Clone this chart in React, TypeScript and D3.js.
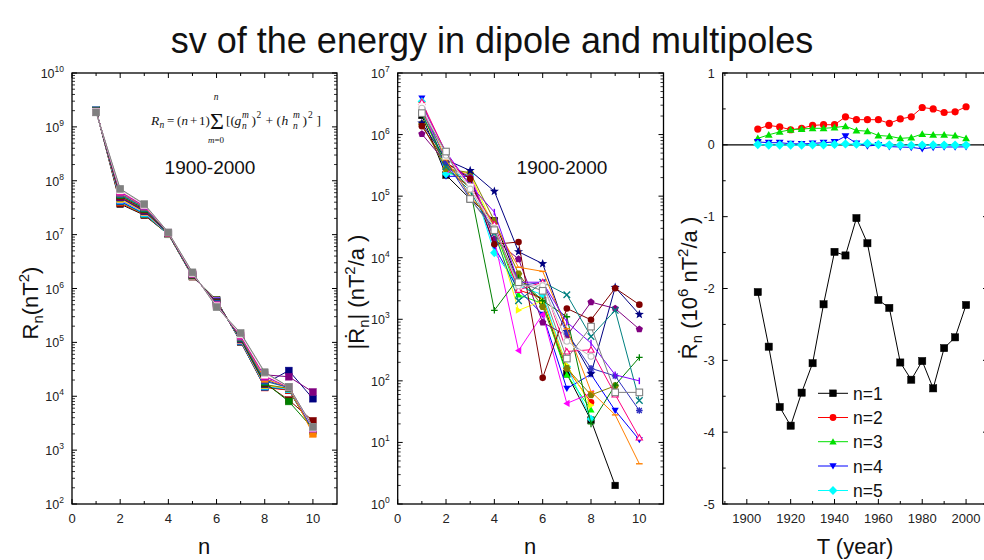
import React from "react";
import * as d3 from "d3";

const FONT = "'Liberation Sans', Arial, Helvetica, sans-serif";
const SERIF = "'Liberation Serif', 'Times New Roman', serif";

// ---------- shared ----------
const degrees = [1, 2, 3, 4, 5, 6, 7, 8, 9, 10];
const originColors = [
  "#000000", "#FF0000", "#00FF00", "#0000FF", "#00FFFF", "#FF00FF", "#FFFF00", "#808000",
  "#000080", "#800080", "#800000", "#008000", "#008080", "#3030C0", "#FF8000", "#8000FF",
  "#FF0080", "#FFFFFF", "#C0C0C0", "#808080",
];

// ---------- panel 1 : R_n (nT^2) ----------
const p1Years = [1905, 1910, 1915, 1920, 1925, 1930, 1935, 1940, 1945, 1950, 1955, 1960, 1965, 1970, 1975, 1980, 1985, 1990, 1995, 2000];
const rn1905 = [2.07e9, 3.7e7, 2.3e7, 1.01e7, 1.66e6, 6.1e5, 1.02e5, 1.5e4, 1.3e4, 2.3e3];
const rn1910 = [2.06e9, 3.9e7, 2.35e7, 1.02e7, 1.67e6, 6.0e5, 1.04e5, 1.45e4, 1.3e4, 2.4e3];
const rn1915 = [2.05e9, 4.1e7, 2.4e7, 1.02e7, 1.68e6, 6.0e5, 1.05e5, 1.5e4, 1.35e4, 2.3e3];
const rn1920 = [2.04e9, 4.2e7, 2.45e7, 1.03e7, 1.69e6, 5.9e5, 1.06e5, 1.5e4, 1.35e4, 2.4e3];
const rn1925 = [2.03e9, 4.4e7, 2.5e7, 1.03e7, 1.7e6, 5.8e5, 1.08e5, 1.55e4, 1.35e4, 2.4e3];
const rn1930 = [2.02e9, 4.5e7, 2.6e7, 1.04e7, 1.72e6, 5.8e5, 1.1e5, 1.6e4, 1.4e4, 2.5e3];
const rn1935 = [2.01e9, 4.6e7, 2.65e7, 1.04e7, 1.73e6, 5.7e5, 1.12e5, 1.6e4, 1.4e4, 2.5e3];
const rn1940 = [2.0e9, 4.8e7, 2.7e7, 1.05e7, 1.74e6, 5.6e5, 1.13e5, 1.65e4, 1.4e4, 2.5e3];
const rn1945 = [1.99e9, 4.9e7, 2.75e7, 1.05e7, 1.75e6, 5.6e5, 1.15e5, 1.7e4, 3.0e4, 9.0e3];
const rn1950 = [1.98e9, 5.0e7, 2.8e7, 1.06e7, 1.77e6, 5.5e5, 1.17e5, 2.5e4, 2.3e4, 1.2e4];
const rn1955 = [1.97e9, 5.2e7, 2.9e7, 1.06e7, 1.78e6, 5.4e5, 1.19e5, 1.75e4, 8.5e3, 3.5e3];
const rn1960 = [1.96e9, 5.4e7, 3.0e7, 1.07e7, 1.8e6, 5.3e5, 1.2e5, 1.8e4, 8.0e3, 2.5e3];
const rn1965 = [1.95e9, 5.6e7, 3.1e7, 1.07e7, 1.82e6, 5.2e5, 1.22e5, 1.9e4, 1.45e4, 2.5e3];
const rn1970 = [1.94e9, 5.8e7, 3.2e7, 1.08e7, 1.84e6, 5.1e5, 1.25e5, 2.0e4, 1.45e4, 2.4e3];
const rn1975 = [1.93e9, 6.0e7, 3.3e7, 1.08e7, 1.86e6, 5.0e5, 1.28e5, 2.1e4, 1.5e4, 2.0e3];
const rn1980 = [1.91e9, 6.2e7, 3.4e7, 1.09e7, 1.88e6, 4.9e5, 1.32e5, 2.3e4, 1.5e4, 2.5e3];
const rn1985 = [1.9e9, 6.4e7, 3.5e7, 1.09e7, 1.9e6, 4.8e5, 1.36e5, 2.4e4, 1.5e4, 2.6e3];
const rn1990 = [1.88e9, 6.6e7, 3.55e7, 1.1e7, 1.93e6, 4.7e5, 1.4e5, 2.5e4, 1.5e4, 2.6e3];
const rn1995 = [1.87e9, 6.9e7, 3.6e7, 1.1e7, 1.96e6, 4.6e5, 1.45e5, 2.7e4, 1.5e4, 2.7e3];
const rn2000 = [1.85e9, 7.1e7, 3.7e7, 1.1e7, 2.0e6, 4.5e5, 1.5e5, 2.8e4, 1.5e4, 2.7e3];
const p1Series = [rn1905, rn1910, rn1915, rn1920, rn1925, rn1930, rn1935, rn1940, rn1945, rn1950,
  rn1955, rn1960, rn1965, rn1970, rn1975, rn1980, rn1985, rn1990, rn1995, rn2000];

// ---------- panel 2 : |dR_n/dt| (nT^2/a) ----------
const p2Years = [1905, 1910, 1915, 1920, 1925, 1930, 1935, 1940, 1945, 1950, 1955, 1960, 1965, 1970, 1975, 1980, 1985, 1990, 1995, 2000];
const rd1905 = [2.05e6, 2.2e5, 9.0e4, 4.0e4, 4.0e3, 2.0e3, 130, 23, 2, null];
const rd1910 = [2.81e6, 2.7e5, 1.4e5, 3.0e4, 3.0e3, 2.2e3, 160, 45, null, null];
const rd1915 = [3.65e6, 2.5e5, 1.8e5, 3.0e4, 2.5e3, 1.8e3, 126, 34, null, null];
const rd1920 = [3.91e6, 2.1e5, 2.1e5, 1.5e4, 3.0e3, 1.2e3, 75, 128, 33, 11];
const rd1925 = [3.45e6, 2.3e5, 2.2e5, 1.2e4, 3.5e3, 2.5e3, 170, 24, null, null];
const rd1930 = [3.04e6, 2.7e5, 2.3e5, 2.0e4, 310, 1.2e3, 43, 63, null, null];
const rd1935 = [2.22e6, 2.8e5, 2.3e5, 3.0e4, 1.4e3, 2.0e3, 180, 40, null, null];
const rd1940 = [1.49e6, 2.8e5, 2.4e5, 4.0e4, 5.5e3, 1.6e3, 160, 59, 83, null];
const rd1945 = [1.54e6, 3.9e5, 2.6e5, 1.2e5, 1.25e4, 8.0e3, 630, 130, 3.3e3, 1.2e3];
const rd1950 = [1.02e6, 3.5e5, 2.0e5, 2.0e4, 9.5e3, 890, 540, 1.9e3, 1.5e3, 690];
const rd1955 = [1.37e6, 3.5e5, 1.9e5, 1.65e4, 1.8e4, 112, 1.5e3, 980, 3.2e3, 1.73e3];
const rd1960 = [2.16e6, 3.5e5, 1.3e5, 1.4e3, 4.7e3, 2.0e3, 1.1e3, 20, 85, 240];
const rd1965 = [2.27e6, 3.0e5, 1.2e5, 2.5e4, 2.0e3, 4.0e3, 2.5e3, 525, 1.4e3, 48];
const rd1970 = [3.03e6, 3.6e5, 9.0e4, 3.0e4, 3.5e3, 4.0e3, 600, 160, 120, 33];
const rd1975 = [3.27e6, 3.9e5, 1.0e5, 3.5e4, 7.0e3, 6.0e3, 700, 67, 28, 4.5];
const rd1980 = [3.01e6, 5.2e5, 1.5e5, 5.5e4, 4.0e3, 4.0e3, 900, 410, 125, 100];
const rd1985 = [3.39e6, 5.0e5, 1.4e5, 3.5e4, 3.0e3, 4.0e3, 300, 320, 60, 12];
const rd1990 = [2.83e6, 4.5e5, 1.4e5, 3.0e4, 3.5e3, 3.5e3, 400, 250, null, null];
const rd1995 = [2.68e6, 4.6e5, 1.3e5, 3.0e4, 3.5e3, 3.5e3, 440, 250, null, null];
const rd2000 = [2.23e6, 5.3e5, 9.0e4, 2.8e4, 4.0e3, 2.9e3, 230, 760, 65, 65];
const p2Series = [rd1905, rd1910, rd1915, rd1920, rd1925, rd1930, rd1935, rd1940, rd1945, rd1950,
  rd1955, rd1960, rd1965, rd1970, rd1975, rd1980, rd1985, rd1990, rd1995, rd2000];
const p2Symbols = ["square", "circle", "triUp", "triDown", "diamond", "triLeft", "triRight", "hexagon",
  "star", "pentagon", "circle", "plus", "x", "asterisk", "hbar", "vbar", "openTri", "square", "openCircle", "openSquare"];

// ---------- panel 3 : dR_n/dt (10^6 nT^2/a) ----------
const p3Years = [1905, 1910, 1915, 1920, 1925, 1930, 1935, 1940, 1945, 1950, 1955, 1960, 1965, 1970, 1975, 1980, 1985, 1990, 1995, 2000];
const p3N1 = [-2.05, -2.81, -3.65, -3.91, -3.45, -3.04, -2.22, -1.49, -1.54, -1.02, -1.37, -2.16, -2.27, -3.03, -3.27, -3.01, -3.39, -2.83, -2.68, -2.23];
const p3N2 = [0.22, 0.27, 0.25, 0.21, 0.23, 0.27, 0.28, 0.28, 0.39, 0.35, 0.35, 0.35, 0.3, 0.36, 0.39, 0.52, 0.5, 0.45, 0.46, 0.53];
const p3N3 = [0.09, 0.14, 0.18, 0.21, 0.22, 0.23, 0.23, 0.24, 0.26, 0.2, 0.19, 0.13, 0.12, 0.09, 0.1, 0.15, 0.14, 0.14, 0.13, 0.09];
const p3N4 = [0.04, 0.03, 0.03, 0.015, 0.012, 0.02, 0.03, 0.04, 0.12, 0.02, -0.017, -0.0014, -0.025, -0.03, -0.035, -0.055, -0.035, -0.03, -0.03, -0.028];
const p3N5 = [0.004, -0.003, -0.0025, -0.003, -0.0035, 0.0003, 0.0014, 0.0055, 0.0125, 0.0095, 0.018, 0.0047, -0.002, -0.0035, -0.007, -0.004, -0.003, -0.0035, -0.0035, -0.004];
const p3Series = [p3N1, p3N2, p3N3, p3N4, p3N5];
const p3Labels = ["n=1", "n=2", "n=3", "n=4", "n=5"];
const p3Colors = ["#000000", "#FF0000", "#00E000", "#0000FF", "#00FFFF"];
const p3Symbols = ["square", "circle", "triUp", "triDown", "diamond"];

// ---------- marker drawing ----------
function polygon(n: number, r: number, rot: number, cx: number, cy: number) {
  const pts: string[] = [];
  for (let i = 0; i < n; i++) {
    const a = rot + (i * 2 * Math.PI) / n;
    pts.push(`${cx + r * Math.cos(a)},${cy + r * Math.sin(a)}`);
  }
  return pts.join(" ");
}
function starPts(cx: number, cy: number, R: number, r: number) {
  const pts: string[] = [];
  for (let i = 0; i < 10; i++) {
    const a = -Math.PI / 2 + (i * Math.PI) / 5;
    const rr = i % 2 === 0 ? R : r;
    pts.push(`${cx + rr * Math.cos(a)},${cy + rr * Math.sin(a)}`);
  }
  return pts.join(" ");
}
function Marker({ type, x, y, r, color, k }: any) {
  const sw = 1.1;
  const edge = color === "#FFFFFF" ? "#FFFFFF" : color;
  switch (type) {
    case "square":
      return <rect key={k} x={x - r} y={y - r} width={2 * r} height={2 * r} fill={color} stroke={edge} strokeWidth={0.5} />;
    case "openSquare":
      return <rect key={k} x={x - r} y={y - r} width={2 * r} height={2 * r} fill="#fff" stroke={color} strokeWidth={sw} />;
    case "circle":
      return <circle key={k} cx={x} cy={y} r={r} fill={color} />;
    case "openCircle":
      return <circle key={k} cx={x} cy={y} r={r * 0.9} fill="#fff" stroke={color} strokeWidth={sw} />;
    case "triUp":
      return <polygon key={k} points={polygon(3, r * 1.25, -Math.PI / 2, x, y + r * 0.2)} fill={color} />;
    case "openTri":
      return <polygon key={k} points={polygon(3, r * 1.1, -Math.PI / 2, x, y + r * 0.2)} fill="#fff" stroke={color} strokeWidth={sw} />;
    case "triDown":
      return <polygon key={k} points={polygon(3, r * 1.25, Math.PI / 2, x, y - r * 0.2)} fill={color} />;
    case "triLeft":
      return <polygon key={k} points={polygon(3, r * 1.25, Math.PI, x + r * 0.2, y)} fill={color} />;
    case "triRight":
      return <polygon key={k} points={polygon(3, r * 1.25, 0, x - r * 0.2, y)} fill={color} />;
    case "diamond":
      return <polygon key={k} points={polygon(4, r * 1.3, 0, x, y)} fill={color} />;
    case "hexagon":
      return <polygon key={k} points={polygon(6, r * 1.15, 0, x, y)} fill={color} />;
    case "pentagon":
      return <polygon key={k} points={polygon(5, r * 1.15, -Math.PI / 2, x, y)} fill={color} />;
    case "star":
      return <polygon key={k} points={starPts(x, y, r * 1.45, r * 0.6)} fill={color} />;
    case "plus":
      return (
        <path key={k} d={`M${x - r},${y}H${x + r}M${x},${y - r}V${y + r}`} stroke={color} strokeWidth={1.3} />
      );
    case "x":
      return (
        <path key={k} d={`M${x - r},${y - r}L${x + r},${y + r}M${x - r},${y + r}L${x + r},${y - r}`} stroke={color} strokeWidth={1.3} />
      );
    case "asterisk": {
      const d = r * 0.75;
      return (
        <path key={k} d={`M${x - r},${y}H${x + r}M${x},${y - r}V${y + r}M${x - d},${y - d}L${x + d},${y + d}M${x - d},${y + d}L${x + d},${y - d}`} stroke={color} strokeWidth={1.3} />
      );
    }
    case "hbar":
      return <path key={k} d={`M${x - r},${y}H${x + r}`} stroke={color} strokeWidth={1.4} />;
    case "vbar":
      return <path key={k} d={`M${x},${y - r}V${y + r}`} stroke={color} strokeWidth={1.4} />;
    default:
      return <circle key={k} cx={x} cy={y} r={r} fill={color} />;
  }
}

// ---------- axis helpers ----------
const TICK_MAJ = 5;
const TICK_MIN = 3;
function Frame({ x0, x1, y0, y1 }: any) {
  return <rect x={x0} y={y0} width={x1 - x0} height={y1 - y0} fill="none" stroke="#000" strokeWidth={1.3} />;
}
function XTicks({ sx, y0, y1, major, minor, fmt }: any) {
  return (
    <g>
      {major.map((v: number) => (
        <g key={"M" + v}>
          <line x1={sx(v)} x2={sx(v)} y1={y1} y2={y1 - TICK_MAJ} stroke="#000" />
          <line x1={sx(v)} x2={sx(v)} y1={y0} y2={y0 + TICK_MAJ} stroke="#000" />
          <text x={sx(v)} y={y1 + 19} textAnchor="middle" fontSize={13} fontFamily={FONT} fill="#222">{fmt(v)}</text>
        </g>
      ))}
      {minor.map((v: number) => (
        <g key={"m" + v}>
          <line x1={sx(v)} x2={sx(v)} y1={y1} y2={y1 - TICK_MIN} stroke="#000" />
          <line x1={sx(v)} x2={sx(v)} y1={y0} y2={y0 + TICK_MIN} stroke="#000" />
        </g>
      ))}
    </g>
  );
}
function LogYTicks({ sy, x0, x1, lo, hi }: any) {
  const majors = d3.range(lo, hi + 1);
  const minors: number[] = [];
  for (let k = lo; k < hi; k++) for (let m = 2; m <= 9; m++) minors.push(m * Math.pow(10, k));
  return (
    <g>
      {majors.map((k: number) => {
        const y = sy(Math.pow(10, k));
        return (
          <g key={"M" + k}>
            <line x1={x0} x2={x0 + TICK_MAJ} y1={y} y2={y} stroke="#000" />
            <line x1={x1} x2={x1 - TICK_MAJ} y1={y} y2={y} stroke="#000" />
            <text x={x0 - 8} y={y + 5} textAnchor="end" fontSize={12.5} fontFamily={FONT} fill="#222">
              10<tspan fontSize={8.5} dy={-6}>{k}</tspan>
            </text>
          </g>
        );
      })}
      {minors.map((v: number, i: number) => (
        <g key={"m" + i}>
          <line x1={x0} x2={x0 + TICK_MIN} y1={sy(v)} y2={sy(v)} stroke="#000" strokeWidth={0.8} />
          <line x1={x1} x2={x1 - TICK_MIN} y1={sy(v)} y2={sy(v)} stroke="#000" strokeWidth={0.8} />
        </g>
      ))}
    </g>
  );
}

// ---------- panels ----------
const TOP = 73;
const BOT = 504;

function Panel1() {
  const x0 = 72, x1 = 337;
  const sx = d3.scaleLinear().domain([0, 11]).range([x0, x1]);
  const sy = d3.scaleLog().domain([1e2, 1e10]).range([BOT, TOP]);
  const line = d3.line<number>().x((_, i) => sx(degrees[i])).y((d) => sy(d));
  return (
    <g>
      {p1Series.map((s, si) => {
        const c = originColors[si];
        return (
          <g key={p1Years[si]}>
            <path d={line(s) || ""} fill="none" stroke={c} strokeWidth={1} />
            {s.map((v, i) => (
              <Marker k={i} key={i} type="square" x={sx(degrees[i])} y={sy(v)} r={3.4} color={c} />
            ))}
          </g>
        );
      })}
      <Frame x0={x0} x1={x1} y0={TOP} y1={BOT} />
      <XTicks sx={sx} y0={TOP} y1={BOT} major={[0, 2, 4, 6, 8, 10]} minor={[1, 3, 5, 7, 9]} fmt={(v: number) => String(v)} />
      <LogYTicks sy={sy} x0={x0} x1={x1} lo={2} hi={10} />
      {/* formula */}
      <g fontFamily={SERIF} fill="#111">
        <text x={151} y={124.5} fontSize={13.5} fontStyle="italic">R</text>
        <text x={159.5} y={128} fontSize={9.5} fontStyle="italic">n</text>
        <text x={167} y={124.5} fontSize={13}>=</text>
        <text x={177} y={124.5} fontSize={13}>(</text>
        <text x={181.5} y={124.5} fontSize={13} fontStyle="italic">n</text>
        <text x={190} y={124.5} fontSize={13}>+</text>
        <text x={199} y={124.5} fontSize={13}>1</text>
        <text x={205.5} y={124.5} fontSize={13}>)</text>
        <text x={217} y={129} fontSize={24} textAnchor="middle">Σ</text>
        <text x={216} y={100} fontSize={9.5} textAnchor="middle" fontStyle="italic">n</text>
        <text x={216} y={143} fontSize={9} textAnchor="middle"><tspan fontStyle="italic">m</tspan>=0</text>
        <text x={226} y={124.5} fontSize={13.5}>[(</text>
        <text x={234.5} y={124.5} fontSize={13.5} fontStyle="italic">g</text>
        <text x={242} y={117.5} fontSize={9.5} fontStyle="italic">m</text>
        <text x={242} y={128.5} fontSize={9.5} fontStyle="italic">n</text>
        <text x={251.5} y={124.5} fontSize={13.5}>)</text>
        <text x={256.5} y={117.5} fontSize={9.5}>2</text>
        <text x={265.5} y={124.5} fontSize={13.5}>+</text>
        <text x={276.5} y={124.5} fontSize={13.5}>(</text>
        <text x={281.5} y={124.5} fontSize={13.5} fontStyle="italic">h</text>
        <text x={293} y={117.5} fontSize={9.5} fontStyle="italic">m</text>
        <text x={293} y={128.5} fontSize={9.5} fontStyle="italic">n</text>
        <text x={302.5} y={124.5} fontSize={13.5}>)</text>
        <text x={308} y={117.5} fontSize={9.5}>2</text>
        <text x={316.5} y={124.5} fontSize={13.5}>]</text>
      </g>
      <text x={210} y={174} fontSize={19} textAnchor="middle" fontFamily={FONT} fill="#111">1900-2000</text>
      <text transform="translate(38,303) rotate(-90)" textAnchor="middle" fontSize={22} fontFamily={FONT} fill="#111">
        R<tspan fontSize={15} dy={5}>n</tspan><tspan dy={-5}>(nT</tspan><tspan fontSize={15} dy={-9}>2</tspan><tspan dy={9}>)</tspan>
      </text>
      <text x={204} y={554} textAnchor="middle" fontSize={22} fontFamily={FONT} fill="#111">n</text>
    </g>
  );
}

function Panel2() {
  const x0 = 397.7, x1 = 663.5;
  const sx = d3.scaleLinear().domain([0, 11]).range([x0, x1]);
  const sy = d3.scaleLog().domain([1, 1e7]).range([BOT, TOP]);
  const line = d3
    .line<number | null>()
    .defined((d) => d != null)
    .x((_, i) => sx(degrees[i]))
    .y((d) => sy(d as number));
  return (
    <g>
      {p2Series.map((s, si) => {
        const c = originColors[si];
        return (
          <g key={p2Years[si]}>
            <path d={line(s) || ""} fill="none" stroke={c} strokeWidth={1} />
            {s.map((v, i) =>
              v == null ? null : (
                <Marker k={i} key={i} type={p2Symbols[si]} x={sx(degrees[i])} y={sy(v)} r={3.3} color={c} />
              )
            )}
          </g>
        );
      })}
      <Frame x0={x0} x1={x1} y0={TOP} y1={BOT} />
      <XTicks sx={sx} y0={TOP} y1={BOT} major={[0, 2, 4, 6, 8, 10]} minor={[1, 3, 5, 7, 9]} fmt={(v: number) => String(v)} />
      <LogYTicks sy={sy} x0={x0} x1={x1} lo={0} hi={7} />
      <text x={562} y={174} fontSize={19} textAnchor="middle" fontFamily={FONT} fill="#111">1900-2000</text>
      <text transform="translate(364,292) rotate(-90)" textAnchor="middle" fontSize={22} fontFamily={FONT} fill="#111">
        |Ṙ<tspan fontSize={15} dy={5}>n</tspan><tspan dy={-5}>| (nT</tspan><tspan fontSize={15} dy={-9}>2</tspan><tspan dy={9}>/a )</tspan>
      </text>
      <text x={530} y={554} textAnchor="middle" fontSize={22} fontFamily={FONT} fill="#111">n</text>
    </g>
  );
}

function Panel3() {
  const x0 = 722.7, x1 = 988;
  const sx = d3.scaleLinear().domain([1889, 2010]).range([x0, x1]);
  const sy = d3.scaleLinear().domain([-5, 1]).range([BOT, TOP]);
  const line = d3.line<number>().x((_, i) => sx(p3Years[i])).y((d) => sy(d));
  const yMajor = [-5, -4, -3, -2, -1, 0, 1];
  const yMinor = [-4.5, -3.5, -2.5, -1.5, -0.5, 0.5];
  const legendY = [393.3, 417.5, 441.7, 466, 490.5];
  return (
    <g>
      <line x1={x0} x2={x1} y1={sy(0)} y2={sy(0)} stroke="#000" strokeWidth={1.2} />
      {p3Series.map((s, si) => (
        <g key={p3Labels[si]}>
          <path d={line(s) || ""} fill="none" stroke={p3Colors[si]} strokeWidth={1} />
          {s.map((v, i) => (
            <Marker k={i} key={i} type={p3Symbols[si]} x={sx(p3Years[i])} y={sy(v)} r={3.6} color={p3Colors[si]} />
          ))}
        </g>
      ))}
      <Frame x0={x0} x1={x1} y0={TOP} y1={BOT} />
      <XTicks sx={sx} y0={TOP} y1={BOT} major={[1900, 1920, 1940, 1960, 1980, 2000]} minor={[1890, 1910, 1930, 1950, 1970, 1990]} fmt={(v: number) => String(v)} />
      {yMajor.map((v) => (
        <g key={"M" + v}>
          <line x1={x0} x2={x0 + TICK_MAJ} y1={sy(v)} y2={sy(v)} stroke="#000" />
          <line x1={x1} x2={x1 - TICK_MAJ} y1={sy(v)} y2={sy(v)} stroke="#000" />
          <text x={x0 - 8} y={sy(v) + 4.5} textAnchor="end" fontSize={12.5} fontFamily={FONT} fill="#222">{v}</text>
        </g>
      ))}
      {yMinor.map((v) => (
        <g key={"m" + v}>
          <line x1={x0} x2={x0 + TICK_MIN} y1={sy(v)} y2={sy(v)} stroke="#000" />
          <line x1={x1} x2={x1 - TICK_MIN} y1={sy(v)} y2={sy(v)} stroke="#000" />
        </g>
      ))}
      {p3Labels.map((lab, i) => (
        <g key={lab}>
          <line x1={818} x2={848} y1={legendY[i]} y2={legendY[i]} stroke={p3Colors[i]} strokeWidth={1} />
          <Marker type={p3Symbols[i]} x={833} y={legendY[i]} r={3.4} color={p3Colors[i]} />
          <text x={853} y={legendY[i] + 6.5} fontSize={17.5} fontFamily={FONT} fill="#111">{lab}</text>
        </g>
      ))}
      <text transform="translate(697,288) rotate(-90)" textAnchor="middle" fontSize={22} fontFamily={FONT} fill="#111">
        Ṙ<tspan fontSize={15} dy={5}>n</tspan><tspan dy={-5}> (10</tspan><tspan fontSize={15} dy={-9}>6</tspan><tspan dy={9}> nT</tspan><tspan fontSize={15} dy={-9}>2</tspan><tspan dy={9}>/a )</tspan>
      </text>
      <text x={855} y={554} textAnchor="middle" fontSize={22} fontFamily={FONT} fill="#111">T (year)</text>
    </g>
  );
}

export default function App() {
  return (
    <svg width={984} height={560} viewBox="0 0 984 560" style={{ position: "absolute", left: 0, top: 0, display: "block", background: "#fff" }}>
      <rect x={0} y={0} width={984} height={560} fill="#fff" />
      <text x={492} y={53} textAnchor="middle" fontSize={36} fontFamily={FONT} fill="#111">
        sv of the energy in dipole and multipoles
      </text>
      <Panel1 />
      <Panel2 />
      <Panel3 />
    </svg>
  );
}
